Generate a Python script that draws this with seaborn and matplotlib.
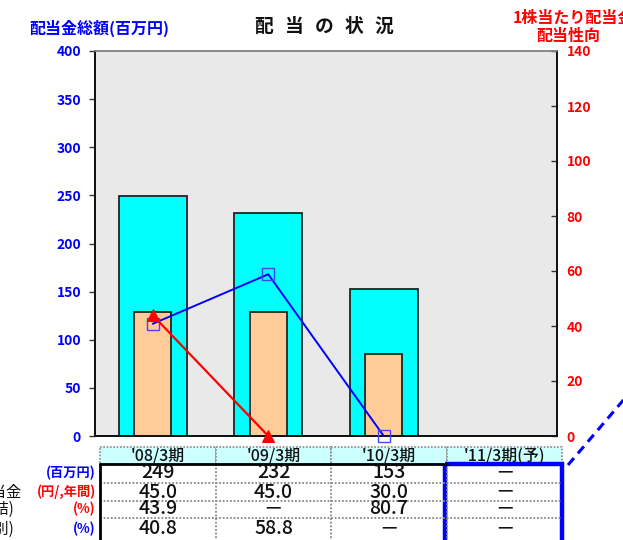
import numpy as np
import pandas as pd
import matplotlib
matplotlib.use("Agg")
import matplotlib.pyplot as plt
from matplotlib.lines import Line2D
from matplotlib.patches import Rectangle
import seaborn as sns

# ---------------- data ----------------
categories = ["'08/3期", "'09/3期", "'10/3期", "'11/3期(予)"]
total_div = [249, 232, 153, None]            # 配当金総額 (百万円)
div_per_share = [45.0, 45.0, 30.0, None]     # 1株当たり配当金 (円/年間)
payout_consol = [43.9, None, 80.7, None]     # 配当性向(連結) %
payout_single = [40.8, 58.8, None, None]     # 配当性向(個別) %
# values as drawn in the chart lines
consol_line = [43.9, 0.0, np.nan, np.nan]
single_line = [40.8, 58.8, 0.0, np.nan]
left_ticks = [0, 50, 100, 150, 200, 250, 300, 350, 400]
right_ticks = [0, 20, 40, 60, 80, 100, 120, 140]

sns.set_theme(style="white")
FONT = ["Noto Sans CJK JP", "DejaVu Sans"]
plt.rcParams["font.family"] = FONT

W, H = 623, 540
fig = plt.figure(figsize=(W / 100, H / 100), dpi=100)

def fx(x):
    return x / W

def fy(y):
    return 1 - y / H

L, R, T, B = 95, 557, 51, 436
ax = fig.add_axes([fx(L), fy(B), fx(R) - fx(L), fy(T) - fy(B)])
ax.set_facecolor("#e9e9e9")
ax2 = ax.twinx()

n = len(categories)
df = pd.DataFrame({"cat": categories[:3], "total": total_div[:3], "dps": div_per_share[:3]})

sns.barplot(data=df, x="cat", y="total", order=categories, ax=ax, color="#00FFFF",
            width=0.59, edgecolor="#222222", linewidth=1.3, saturation=1, errorbar=None)
sns.barplot(data=df, x="cat", y="dps", order=categories, ax=ax2, color="#FFCC99",
            width=0.32, edgecolor="#222222", linewidth=1.3, saturation=1, errorbar=None)

idx = list(range(n))
sns.lineplot(x=idx, y=single_line, ax=ax2, color="#0000FF", linewidth=1.4,
             marker="s", markersize=9, markerfacecolor="none", markeredgecolor="#4444FF",
             markeredgewidth=1.0, clip_on=False, zorder=5)
sns.lineplot(x=idx, y=consol_line, ax=ax2, color="#FF0000", linewidth=1.6,
             marker="^", markersize=9, markerfacecolor="#FF0000", markeredgecolor="#FF0000",
             clip_on=False, zorder=6)

ax.set_xlim(-0.5, n - 0.5)
ax.set_ylim(0, 400)
ax2.set_ylim(0, 140)
ax.set_yticks(left_ticks)
ax2.set_yticks(right_ticks)
ax.set_xticks([0.5, 1.5, 2.5])
ax.set_xticklabels([])
ax2.set_xticks([0.5, 1.5, 2.5])
ax2.set_xticklabels([])
ax.set_xlabel("")
ax.set_ylabel("")
ax2.set_xlabel("")
ax2.set_ylabel("")

ax.tick_params(axis="y", direction="out", length=4, width=1, color="#333333", pad=6,
               labelsize=10, labelcolor="#0000FF")
ax.tick_params(axis="x", direction="in", length=3, width=1, color="#555555")
ax2.tick_params(axis="y", direction="in", length=4, width=1, color="#333333", pad=7,
                labelsize=10, labelcolor="#FF0000")
ax2.tick_params(axis="x", length=0)
for t in ax.get_yticklabels():
    t.set_fontweight("bold")
for t in ax2.get_yticklabels():
    t.set_fontweight("bold")

for a in (ax, ax2):
    for s in ("left", "bottom", "right"):
        a.spines[s].set_visible(True)
        a.spines[s].set_color("#111111")
        a.spines[s].set_linewidth(1.3)
    a.spines["top"].set_visible(True)
    a.spines["top"].set_color("#888888")
    a.spines["top"].set_linewidth(1.2)
ax.grid(False)
ax2.grid(False)

# ---------------- titles ----------------
fig.text(fx(324), fy(26), "配 当 の 状 況", ha="center", va="center", fontsize=13.5,
         fontweight="bold", color="#111111", family=["DejaVu Sans Mono", "Noto Sans CJK JP"])
fig.text(fx(99), fy(28), "配当金総額(百万円)", ha="center", va="center", fontsize=11.5,
         fontweight="bold", color="#0000FF", family=FONT)
fig.text(fx(573), fy(18), "1株当たり配当金", ha="center", va="center", fontsize=11.5,
         fontweight="bold", color="#FF0000", family=FONT)
fig.text(fx(568), fy(36), "配当性向", ha="center", va="center", fontsize=11.5,
         fontweight="bold", color="#FF0000", family=FONT)

# ---------------- table overlay (pixel coords) ----------------
ov = fig.add_axes([0, 0, 1, 1], zorder=10)
ov.set_xlim(0, W)
ov.set_ylim(H, 0)
ov.axis("off")
ov.patch.set_visible(False)

cols = [100, 216, 331, 447, 562]
hdr_top, hdr_bot = 447, 464
rows = [464, 483, 501, 518, 545]
row_centers = [473, 492, 509, 529]

# header cells
for i in range(n):
    ov.add_patch(Rectangle((cols[i], hdr_top), cols[i + 1] - cols[i], hdr_bot - hdr_top,
                           facecolor="#CCFFFF", edgecolor="#888888", linewidth=1.2,
                           linestyle=(0, (1, 1))))
    ov.text((cols[i] + cols[i + 1]) / 2, (hdr_top + hdr_bot) / 2 + 0.5, categories[i],
            ha="center", va="center", fontsize=11.5, fontweight="medium",
            color="#111111", family=FONT)

# inner grid of data rows
for y in rows[1:4]:
    ov.add_line(Line2D([cols[0], cols[-1]], [y, y], color="#888888", linewidth=1.3,
                       linestyle=(0, (1, 1))))
for x in cols[1:4]:
    ov.add_line(Line2D([x, x], [rows[0], rows[-1]], color="#888888", linewidth=1.3,
                       linestyle=(0, (1, 1))))
ov.add_line(Line2D([cols[0], cols[3]], [rows[0], rows[0]], color="#000000", linewidth=2.0))
ov.add_line(Line2D([cols[0], cols[0]], [rows[0], rows[-1]], color="#000000", linewidth=2.0))

def fmt(v, dec):
    if v is None:
        return "－"
    return f"{v:.{dec}f}"

table_rows = [(total_div, 0), (div_per_share, 1), (payout_consol, 1), (payout_single, 1)]
for r, (vals, dec) in enumerate(table_rows):
    for i in range(n):
        ov.text((cols[i] + cols[i + 1]) / 2, row_centers[r], fmt(vals[i], dec),
                ha="center", va="center", fontsize=14, fontweight="medium",
                color="#111111", family=FONT)

# blue frame around forecast column
ov.add_patch(Rectangle((cols[3] - 2, rows[0]), cols[4] - cols[3] + 2, 100,
                       facecolor="none", edgecolor="#0000FF", linewidth=3.2))
ov.add_line(Line2D([568, 626], [465, 397], color="#0000FF", linewidth=2.2,
                   linestyle=(0, (3, 2))))

# row labels (partly outside the picture)
units = [("(百万円)", "#0000FF"), ("(円/,年間)", "#FF0000"), ("(%)", "#FF0000"), ("(%)", "#0000FF")]
for r, (u, c) in enumerate(units):
    ov.text(96, row_centers[r], u, ha="right", va="center", fontsize=9.5, fontweight="bold",
            color=c, family=FONT)
ov.text(22, row_centers[1], "1株当たり配当金", ha="right", va="center", fontsize=11,
        color="#111111", family=FONT)
ov.text(14, row_centers[2], "配当性向(連結)", ha="right", va="center", fontsize=11,
        color="#111111", family=FONT)
ov.text(14, row_centers[3], "配当性向(個別)", ha="right", va="center", fontsize=11,
        color="#111111", family=FONT)

fig.savefig("out.png", dpi=100, facecolor="white")
